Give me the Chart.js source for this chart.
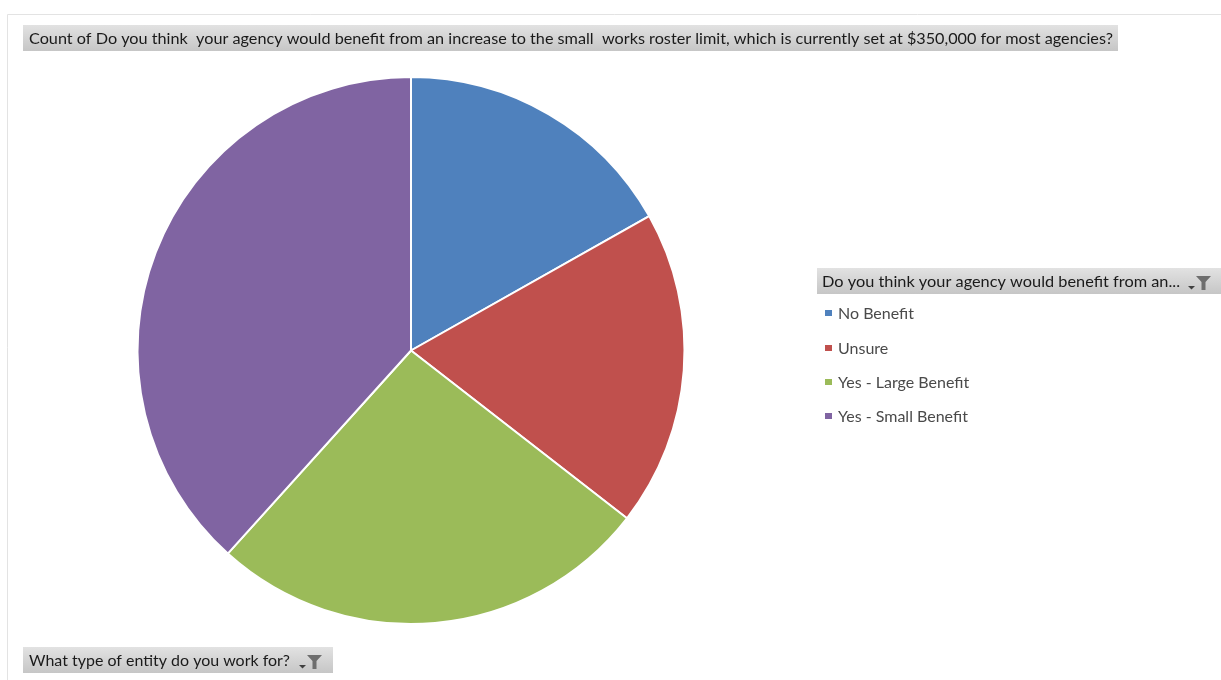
<!DOCTYPE html>
<html>
<head>
<meta charset="utf-8">
<script src="https://cdn.jsdelivr.net/npm/chart.js@4/dist/chart.umd.min.js"></script>
<style>
  html, body { margin: 0; padding: 0; background: #ffffff; }
  #wrap { position: relative; width: 1221px; height: 680px; }
  canvas { display: block; }
</style>
</head>
<body>
<div id="wrap"><canvas id="c" width="1221" height="680"></canvas></div>
<script>
// ---- data ----
const categories = ["No Benefit", "Unsure", "Yes - Large Benefit", "Yes - Small Benefit"];
const counts = [18, 20, 28, 41];
const sliceColors = ["#4F81BD", "#C0504D", "#9BBB59", "#8064A2"];
const titleText = "Count of Do you think  your agency would benefit from an increase to the small  works roster limit, which is currently set at $350,000 for most agencies?";
const legendHeader = "Do you think your agency would benefit from an...";
const filterLabel = "What type of entity do you work for?";

const FONT = "Lato, 'Open Sans', sans-serif";

function grayBox(ctx, x, y, w, h) {
  const g = ctx.createLinearGradient(0, y, 0, y + h);
  g.addColorStop(0, "#e2e2e2");
  g.addColorStop(1, "#c6c6c6");
  ctx.fillStyle = g;
  ctx.fillRect(x, y, w, h);
}
function fitText(ctx, text, x, y, targetW) {
  const w = ctx.measureText(text).width;
  const s = targetW / w;
  ctx.save();
  ctx.translate(x, y);
  ctx.scale(s, 1);
  ctx.fillText(text, 0, 0);
  ctx.restore();
}
function filterIcon(ctx, x, y) {
  ctx.fillStyle = "#404040";
  ctx.beginPath();
  ctx.moveTo(x, y + 5); ctx.lineTo(x + 7, y + 5); ctx.lineTo(x + 3.5, y + 8.5); ctx.closePath();
  ctx.fill();
  ctx.fillStyle = "#6e6e6e";
  ctx.beginPath();
  ctx.moveTo(x + 8, y - 5); ctx.lineTo(x + 23, y - 5); ctx.lineTo(x + 17.5, y + 1);
  ctx.lineTo(x + 17.5, y + 9); ctx.lineTo(x + 13.5, y + 9); ctx.lineTo(x + 13.5, y + 1); ctx.closePath();
  ctx.fill();
}

const decor = {
  id: "decor",
  beforeDraw(chart) {
    const ctx = chart.ctx;
    ctx.save();
    ctx.strokeStyle = "#e3e3e3";
    ctx.lineWidth = 1;
    ctx.beginPath();
    ctx.moveTo(7.5, 680); ctx.lineTo(7.5, 14.5); ctx.lineTo(1221, 14.5);
    ctx.stroke();
    ctx.restore();
  },
  afterDraw(chart) {
    const ctx = chart.ctx;
    ctx.save();
    ctx.textBaseline = "middle";
    ctx.font = "16px " + FONT;
    // title box
    grayBox(ctx, 23, 25, 1095, 26);
    ctx.fillStyle = "#1a1a1a";
    fitText(ctx, titleText, 29, 39, 1084);
    // legend header
    grayBox(ctx, 817, 268, 404, 26);
    ctx.fillStyle = "#1a1a1a";
    fitText(ctx, legendHeader, 822, 282, 358);
    filterIcon(ctx, 1188, 281);
    // legend items
    const labels = chart.data.labels;
    const colors = chart.data.datasets[0].backgroundColor;
    const rowY = [313, 348, 382, 416];
    labels.forEach((lab, i) => {
      ctx.fillStyle = colors[i];
      ctx.fillRect(825, rowY[i] - 3, 7, 6);
      ctx.fillStyle = "#4a4a4a";
      const w = ctx.measureText(lab).width;
      fitText(ctx, lab, 838, rowY[i] + 1, w * 1.0);
    });
    // bottom filter button
    grayBox(ctx, 23, 647, 310, 26);
    ctx.fillStyle = "#1a1a1a";
    fitText(ctx, filterLabel, 29, 661, 261);
    filterIcon(ctx, 299, 660);
    ctx.restore();
  }
};

new Chart(document.getElementById("c"), {
  type: "pie",
  data: {
    labels: categories,
    datasets: [{
      data: counts,
      backgroundColor: sliceColors,
      borderColor: "#ffffff",
      borderWidth: 2
    }]
  },
  options: {
    responsive: false,
    animation: false,
    events: [],
    layout: { padding: { left: 136, right: 535, top: 76, bottom: 55 } },
    plugins: {
      legend: { display: false },
      title: { display: false },
      tooltip: { enabled: false }
    }
  },
  plugins: [decor]
});
</script>
</body>
</html>
